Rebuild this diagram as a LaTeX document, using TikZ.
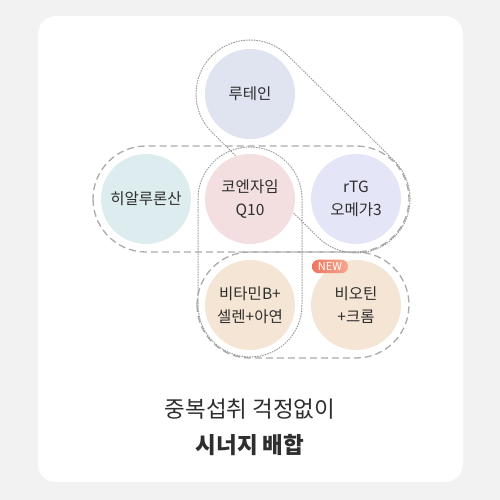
\documentclass[tikz,border=0pt]{standalone}
\usepackage{fontspec}
\setmainfont{Noto Sans CJK KR}
\begin{document}
\begin{tikzpicture}[x=1pt,y=1pt,
  circ/.style={circle,minimum size=90pt,inner sep=0pt,align=center,text=txt,font=\fontsize{15.5}{23}\selectfont},
  dashline/.style={draw=dashc,line width=1.3pt,dash pattern=on 7pt off 4pt},
  dotline/.style={draw=dotc,line width=1pt,dash pattern=on 1pt off 1.6pt,line cap=round}]
\definecolor{bgc}{HTML}{F2F2F2}
\definecolor{txt}{HTML}{2E2E2E}
\definecolor{dashc}{HTML}{ABABAB}
\definecolor{dotc}{HTML}{9A9A9A}
\definecolor{cLut}{HTML}{DFE4F0}
\definecolor{cHya}{HTML}{DDECEE}
\definecolor{cCoq}{HTML}{F4DFE0}
\definecolor{cRtg}{HTML}{E4E6F7}
\definecolor{cBei}{HTML}{F4E5D4}
\definecolor{newL}{HTML}{EE7560}
\definecolor{newR}{HTML}{F4A88E}
\useasboundingbox (0,0) rectangle (500,500);
\fill[bgc] (0,0) rectangle (500,500);
\fill[white,rounded corners=18pt] (38,18) rectangle (463,484);
% enclosures
\draw[dashline,rounded corners=53pt] (93,354) rectangle (409,248);
\draw[dashline,rounded corners=53pt] (197,248) rectangle (409,142);
\draw[dotline,rounded corners=52pt] (198,353) rectangle (302,143);
\begin{scope}[shift={(250,406)},rotate=-44.7]
\draw[dotline,rounded corners=54pt] (-54,-54) rectangle (203.2,54);
\end{scope}
% circles
\node[circ,fill=cLut] (lut) at (250,406) {루테인};
\node[circ,fill=cHya] (hya) at (146,301) {히알루론산};
\node[circ,fill=cCoq] (coq) at (250,301) {코엔자임\\Q10};
\node[circ,fill=cRtg] (rtg) at (356,301) {rTG\\오메가3};
\node[circ,fill=cBei] (vit) at (250,195) {비타민B+\\셀렌+아연};
\node[circ,fill=cBei] (bio) at (356,195) {비오틴\\+크롬};
\node[rounded corners=6.5pt,left color=newL,right color=newR,minimum width=36pt,minimum height=13.5pt,inner sep=0pt,text=white,font=\fontsize{11}{11}\selectfont] (new) at (330,233.5) {NEW};
% caption
\node[text=txt,font=\fontsize{22.5}{26}\selectfont] (cap1) at (250,91) {중복섭취 걱정없이};
\node[text=txt,font=\fontsize{22.5}{26}\selectfont\bfseries] (cap2) at (250,55) {시너지 배합};
\end{tikzpicture}
\end{document}
